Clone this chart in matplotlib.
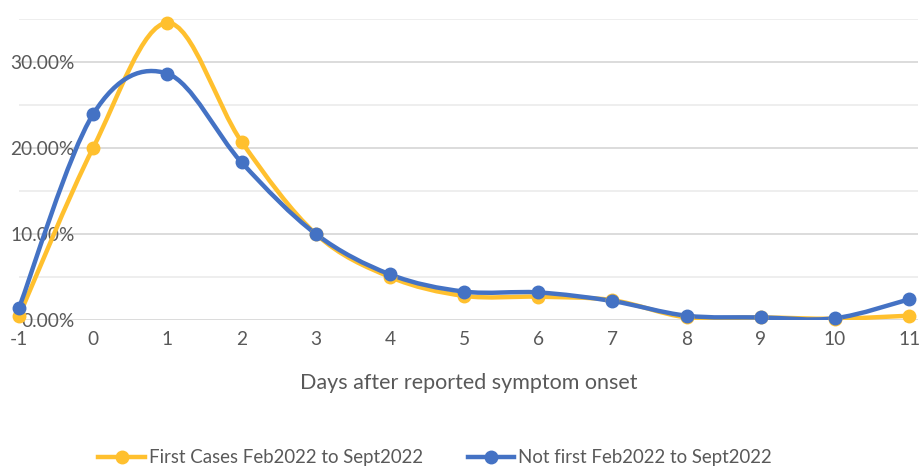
import numpy as np
import matplotlib
matplotlib.use("Agg")
from matplotlib import pyplot as plt
from matplotlib.path import Path
from matplotlib.patches import PathPatch
from matplotlib.lines import Line2D
from matplotlib.ticker import FuncFormatter

plt.rcParams['font.family'] = ['Lato', 'DejaVu Sans']
plt.rcParams['axes.unicode_minus'] = False

days = [-1, 0, 1, 2, 3, 4, 5, 6, 7, 8, 9, 10, 11]
first_cases = [0.46, 20.0, 34.5, 20.7, 10.0, 5.0, 2.8, 2.7, 2.3, 0.3, 0.3, 0.15, 0.5]
not_first = [1.4, 23.9, 28.6, 18.3, 10.0, 5.3, 3.3, 3.2, 2.2, 0.5, 0.3, 0.2, 2.4]

label_first = "First Cases Feb2022 to Sept2022"
label_not_first = "Not first Feb2022 to Sept2022"

yellow = "#FFC02E"
blue = "#4472C4"
grey_text = "#595959"


def smooth_path(x, y):
    # Excel-style smoothed line: cubic Bezier segments through every point
    pts = np.column_stack([x, y]).astype(float)
    ext = np.vstack([pts[0], pts, pts[-1]])
    verts = [pts[0]]
    codes = [Path.MOVETO]
    for i in range(len(pts) - 1):
        p0, p1, p2, p3 = ext[i], ext[i + 1], ext[i + 2], ext[i + 3]
        c1 = p1 + (p2 - p0) / 6.0
        c2 = p2 - (p3 - p1) / 6.0
        verts += [c1, c2, p2]
        codes += [Path.CURVE4] * 3
    return Path(verts, codes)


fig = plt.figure(figsize=(9.21, 4.66), dpi=100)
ax = fig.add_axes([19 / 921, 146 / 466, 899 / 921, 301.5 / 466])

for vals, col in [(first_cases, yellow), (not_first, blue)]:
    ax.add_patch(PathPatch(smooth_path(days, vals), facecolor="none",
                           edgecolor=col, lw=3.2, capstyle="round",
                           joinstyle="round", zorder=3))
    ax.plot(days, vals, "o", color=col, ms=9, zorder=4, clip_on=False)

ax.set_xlim(-1, 11.12)
ax.set_ylim(0, 35)
ax.set_xticks(days)
ax.set_yticks(np.arange(0, 36, 10))
ax.set_yticks(np.arange(5, 36, 10), minor=True)
ax.yaxis.set_major_formatter(FuncFormatter(lambda v, p: f"{v:.2f}%"))
ax.grid(axis="y", which="major", color="#D9D9D9", lw=1.3)
ax.grid(axis="y", which="minor", color="#EDEDED", lw=1.3)
ax.set_axisbelow(True)
for s in ax.spines.values():
    s.set_visible(False)
ax.tick_params(axis="both", which="both", length=0, colors=grey_text,
               labelsize=13.8)
ax.tick_params(axis="y", pad=-40)
for lab in ax.get_yticklabels():
    lab.set_zorder(5)
ax.tick_params(axis="x", pad=8)
ax.set_xlabel("Days after reported symptom onset", fontsize=15.5,
              color=grey_text, labelpad=18)

handles = [
    Line2D([], [], color=yellow, lw=3.2, marker="o", ms=9),
    Line2D([], [], color=blue, lw=3.2, marker="o", ms=9),
]
fig.legend(handles, [label_first, label_not_first], loc="center",
           bbox_to_anchor=(435 / 921, 1 - 458 / 466), ncol=2, frameon=False,
           fontsize=13.4, handlelength=2.5, handletextpad=0.2,
           columnspacing=2.4, labelcolor=grey_text)

fig.savefig("out.png", dpi=100, facecolor="white")
